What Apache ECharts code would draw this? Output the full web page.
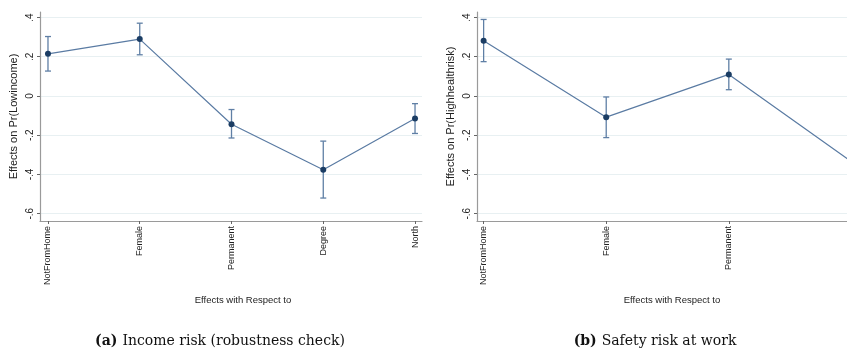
<!DOCTYPE html>
<html><head><meta charset="utf-8">
<script src="https://cdn.jsdelivr.net/npm/echarts@6/dist/echarts.min.js"></script>
<style>html,body{margin:0;padding:0;background:#fff}#c{width:847px;height:349px}</style>
</head><body><div id="c"></div>
<script>
const catsA = ['NotFromHome','Female','Permanent','Degree','North'];
const estA  = [0.215, 0.290, -0.144, -0.376, -0.115];
const lowA  = [0.127, 0.210, -0.214, -0.520, -0.191];
const highA = [0.303, 0.371, -0.069, -0.230, -0.039];

const catsB = ['NotFromHome','Female','Permanent','Degree'];
const estB  = [0.281, -0.108, 0.110, -0.334];
const lowB  = [0.175, -0.212, 0.032, -0.450];
const highB = [0.390, -0.005, 0.188, -0.218];

const yTicks = [-0.6, -0.4, -0.2, 0, 0.2, 0.4];

const LINE = '#5a7ba3', DOT = '#1b3d64', BAR = '#5f7fa5', AX = '#9a9a9a', GRID = '#e8f0f2';
const FONT = '"Liberation Sans", Arial, sans-serif';
const SERIF = '"DejaVu Serif", serif';

function fmtY(v){ if (Math.abs(v) < 1e-9) return '0'; return (v<0?'-':'') + Math.abs(v).toFixed(1).replace(/^0/,''); }

function xAxisFor(gi, cats, min, max){
  return {
    type:'value', gridIndex:gi, min:min, max:max,
    axisLine:{show:true, onZero:false, lineStyle:{color:AX, width:1.2}},
    axisTick:{show:true, customValues:cats.map((c,i)=>i), length:3, lineStyle:{color:'#666'}},
    axisLabel:{customValues:cats.map((c,i)=>i), rotate:90, fontSize:9, color:'#222', fontFamily:FONT, margin:5,
      formatter:v=>cats[Math.round(v)]},
    splitLine:{show:false}
  };
}
function yAxisFor(gi, name){
  return {
    type:'value', gridIndex:gi, min:-0.637, max:0.428,
    name:name, nameLocation:'middle', nameGap:21, nameRotate:90,
    nameTextStyle:{fontSize:11, color:'#222', fontFamily:FONT},
    axisLine:{show:true, onZero:false, lineStyle:{color:AX, width:1.2}},
    axisTick:{show:true, customValues:yTicks, length:3, lineStyle:{color:'#666'}},
    axisLabel:{customValues:yTicks, rotate:90, fontSize:10, color:'#222', fontFamily:FONT, margin:5, formatter:fmtY},
    splitLine:{show:true, lineStyle:{color:GRID, width:1}}
  };
}
function errSeries(ai, low, high){
  return {
    type:'custom', xAxisIndex:ai, yAxisIndex:ai, clip:true, z:2,
    data: low.map((l,i)=>[i,l,high[i]]),
    renderItem:(params, api)=>{
      const x = api.value(0);
      const p1 = api.coord([x, api.value(1)]);
      const p2 = api.coord([x, api.value(2)]);
      const w = 3;
      const st = {stroke:BAR, lineWidth:1.3};
      return {type:'group', children:[
        {type:'line', shape:{x1:p1[0],y1:p1[1],x2:p2[0],y2:p2[1]}, style:st},
        {type:'line', shape:{x1:p1[0]-w,y1:p1[1],x2:p1[0]+w,y2:p1[1]}, style:st},
        {type:'line', shape:{x1:p2[0]-w,y1:p2[1],x2:p2[0]+w,y2:p2[1]}, style:st}
      ]};
    }
  };
}
function lineSeries(ai, est){
  return {
    type:'line', xAxisIndex:ai, yAxisIndex:ai, clip:true, z:3,
    data: est.map((v,i)=>[i,v]),
    symbol:'circle', symbolSize:6, showAllSymbol:true,
    lineStyle:{color:LINE, width:1.2},
    itemStyle:{color:DOT},
    emphasis:{disabled:true}, animation:false
  };
}
function caption(letter, text, cx){
  return {text:'{b|(' + letter + ')} {n|' + text + '}', left:cx, top:327, textAlign:'center',
    textStyle:{fontWeight:'normal', rich:{
      b:{fontWeight:'bold', fontSize:14, fontFamily:SERIF, color:'#111'},
      n:{fontWeight:'normal', fontSize:14, fontFamily:SERIF, color:'#111'}}}};
}

const chart = echarts.init(document.getElementById('c'), null, {renderer:'canvas'});
chart.setOption({
  animation:false,
  backgroundColor:'#fff',
  grid:[
    {left:40, right:425, top:12, bottom:128},
    {left:477, right:0, top:12, bottom:128}
  ],
  xAxis:[ xAxisFor(0, catsA, -0.087, 4.076), xAxisFor(1, catsB, -0.054, 2.964) ],
  yAxis:[ yAxisFor(0, 'Effects on Pr(Lowincome)'), yAxisFor(1, 'Effects on Pr(Highhealthrisk)') ],
  title:[
    {text:'Effects with Respect to', left:238, top:290, textAlign:'center',
      textStyle:{fontSize:9.5, fontWeight:'normal', color:'#222', fontFamily:FONT}},
    {text:'Effects with Respect to', left:667, top:290, textAlign:'center',
      textStyle:{fontSize:9.5, fontWeight:'normal', color:'#222', fontFamily:FONT}},
    caption('a', 'Income risk (robustness check)', 215),
    caption('b', 'Safety risk at work', 650)
  ],
  series:[ errSeries(0, lowA, highA), lineSeries(0, estA), errSeries(1, lowB, highB), lineSeries(1, estB) ]
});
</script></body></html>
